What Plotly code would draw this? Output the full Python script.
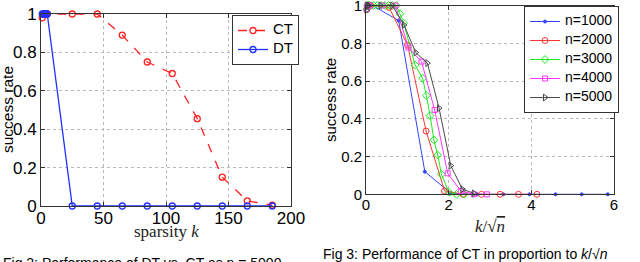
import numpy as np
import plotly.graph_objects as go

# ---------------- data: left chart (DT vs CT) ----------------
k_left = [1, 2, 3, 4, 5, 25, 45, 65, 85, 105, 125, 145, 165, 185]
ct_rate = [0.98, 1, 1, 1, 1, 1, 1, 0.89, 0.75, 0.69, 0.455, 0.15, 0.027, 0.004]
dt_rate = [1, 1, 1, 1, 1, 0, 0, 0, 0, 0, 0, 0, 0, 0]

# ---------------- data: right chart (CT vs k/sqrt(n)) ----------------
n_values = [1000, 2000, 3000, 4000, 5000]
k_n1000 = [1, 2, 3, 4, 5, 25, 45, 65, 85, 105, 125, 145, 165, 185]
rate_n1000 = [1, 1, 1, 1, 1, 0.92, 0.12, 0.005, 0, 0, 0, 0, 0, 0]
k_n2000 = [1, 2, 3, 4, 5, 25, 45, 65, 85, 105, 125, 145, 165, 185]
rate_n2000 = [0.98, 1, 1, 1, 1, 0.99, 0.79, 0.335, 0.018, 0, 0, 0, 0, 0]
k_n3000 = [1, 2, 3, 4, 5, 10, 15, 20, 25, 30, 35, 40, 45, 50, 65, 75, 80, 85, 90, 95, 100, 110, 120, 130]
rate_n3000 = [0.98, 1, 1, 1, 1, 1, 1, 1, 1, 1, 1, 1, 0.956, 0.906, 0.685, 0.615, 0.523, 0.417, 0.288, 0.208, 0.106, 0.01, 0, 0]
k_n4000 = [1, 2, 3, 4, 5, 25, 45, 65, 85, 105, 125, 145, 165, 185]
rate_n4000 = [0.98, 1, 1, 1, 1, 1, 1, 0.777, 0.703, 0.447, 0.111, 0.018, 0, 0]
k_n5000 = [1, 2, 3, 4, 5, 25, 45, 65, 85, 105, 125, 145, 165, 185]
rate_n5000 = [0.975, 1, 1, 1, 1, 1, 1, 0.897, 0.751, 0.695, 0.456, 0.152, 0.027, 0.005]

series_labels = ["n=1000", "n=2000", "n=3000", "n=4000", "n=5000"]
series_k = [k_n1000, k_n2000, k_n3000, k_n4000, k_n5000]
series_rate = [rate_n1000, rate_n2000, rate_n3000, rate_n4000, rate_n5000]

left_ticks_x = [0, 50, 100, 150, 200]
right_ticks_x = [0, 2, 4, 6]
ticks_y = [0, 0.2, 0.4, 0.6, 0.8, 1]

# ---------------- styles ----------------
W, H = 640, 262
SANS = "Liberation Sans"
SERIF = "Liberation Serif"
colors = ["#3344ff", "#ff3535", "#1ee81e", "#ff35ff", "#4a4a4a"]
symbols = ["circle", "circle-open", "diamond-open", "square-open", "triangle-right-open"]
msizes = [3, 6, 6, 5, 6]


def lbl(text, size):
    return f"<span style='font-size:{size}px'>{text}</span>"


fig = go.Figure()

fig.add_trace(go.Scatter(
    x=k_left, y=ct_rate, name=lbl("CT", 15), mode="lines+markers",
    line=dict(color="#ff2020", width=1.3, dash="dash"),
    marker=dict(symbol="circle-open", size=6, color="#ff2020", line=dict(width=1.3)),
    xaxis="x", yaxis="y", legend="legend", cliponaxis=False))
fig.add_trace(go.Scatter(
    x=k_left, y=dt_rate, name=lbl("DT", 15), mode="lines+markers",
    line=dict(color="#2030ff", width=1.3),
    marker=dict(symbol="circle-open", size=6, color="#2030ff", line=dict(width=1.3)),
    xaxis="x", yaxis="y", legend="legend", cliponaxis=False))

for i, n in enumerate(n_values):
    x = np.array(series_k[i], dtype=float) / np.sqrt(n)
    fig.add_trace(go.Scatter(
        x=x, y=series_rate[i], name=lbl(series_labels[i], 14), mode="lines+markers",
        line=dict(color=colors[i], width=1),
        marker=dict(symbol=symbols[i], size=msizes[i], color=colors[i], line=dict(width=1, color=colors[i])),
        xaxis="x2", yaxis="y2", legend="legend2", cliponaxis=False))


def axis(domain, rng, tickvals, size, anchor, standoff=0):
    return dict(
        domain=domain, range=rng, tickvals=tickvals, anchor=anchor, automargin=False,
        showline=True, linecolor="#333333", linewidth=1, mirror="ticks",
        ticks="inside", ticklen=4, tickcolor="#333333",
        showgrid=True, gridcolor="#b8b8b8", griddash="dot", gridwidth=1,
        zeroline=False, tickfont=dict(family=SANS, size=size, color="black"),
        ticklabeloverflow="allow", ticklabelstandoff=standoff,
    )


def px_x(p):
    return p / W


def px_y(p):
    return (H - p) / H


fig.update_layout(
    template="none",
    width=W, height=H, margin=dict(l=0, r=0, t=0, b=0, pad=0),
    paper_bgcolor="white", plot_bgcolor="white",
    font=dict(family=SANS, color="black"),
    xaxis=axis([px_x(41), px_x(291)], [0, 200], left_ticks_x, 17, "y", -3),
    yaxis=axis([px_y(206), px_y(14)], [0, 1], ticks_y, 17, "x"),
    xaxis2=axis([px_x(366), px_x(614)], [0, 6], right_ticks_x, 15, "y2", -3),
    yaxis2=axis([px_y(194.3), px_y(5.5)], [0, 1], ticks_y, 15, "x2"),
    legend=dict(x=px_x(232), y=px_y(15), xanchor="left", yanchor="top",
                bordercolor="#333333", borderwidth=1, bgcolor="white",
                font=dict(family=SANS, size=10, color="black"), itemwidth=30,
                tracegroupgap=0),
    legend2=dict(x=px_x(524), y=px_y(6), xanchor="left", yanchor="top",
                 bordercolor="#333333", borderwidth=1, bgcolor="white",
                 font=dict(family=SANS, size=10, color="black"), itemwidth=30,
                 tracegroupgap=0),
    showlegend=True,
)

annotations = [
    dict(text="success rate", x=px_x(7), y=px_y(110), textangle=-90,
         font=dict(family=SANS, size=15.5, color="black")),
    dict(text="success rate", x=px_x(331), y=px_y(100), textangle=-90,
         font=dict(family=SANS, size=15, color="black")),
    dict(text="sparsity <i>k</i>", x=px_x(166), y=px_y(231),
         font=dict(family=SERIF, size=17, color="#222222")),
    dict(text="<i>k</i>/√<span style='text-decoration:overline'><i>n</i></span>", x=px_x(490), y=px_y(226),
         font=dict(family=SERIF, size=17, color="#222222")),
    dict(text="Fig 2: Performance of DT vs. CT as n = 5000", x=px_x(1), y=px_y(253),
         xanchor="left", yanchor="top", font=dict(family=SANS, size=14, color="black")),
    dict(text="Fig 3: Performance of CT in proportion to <i>k</i>/√<i>n</i>", x=px_x(321), y=px_y(244),
         xanchor="left", yanchor="top", font=dict(family=SANS, size=14, color="black")),
]
for a in annotations:
    a.setdefault("xanchor", "center")
    a.setdefault("yanchor", "middle")
    a.update(xref="paper", yref="paper", showarrow=False)
fig.update_layout(annotations=annotations)

fig.write_html("out.html", config={"displayModeBar": False},
               post_script="document.body.style.margin='0';")
